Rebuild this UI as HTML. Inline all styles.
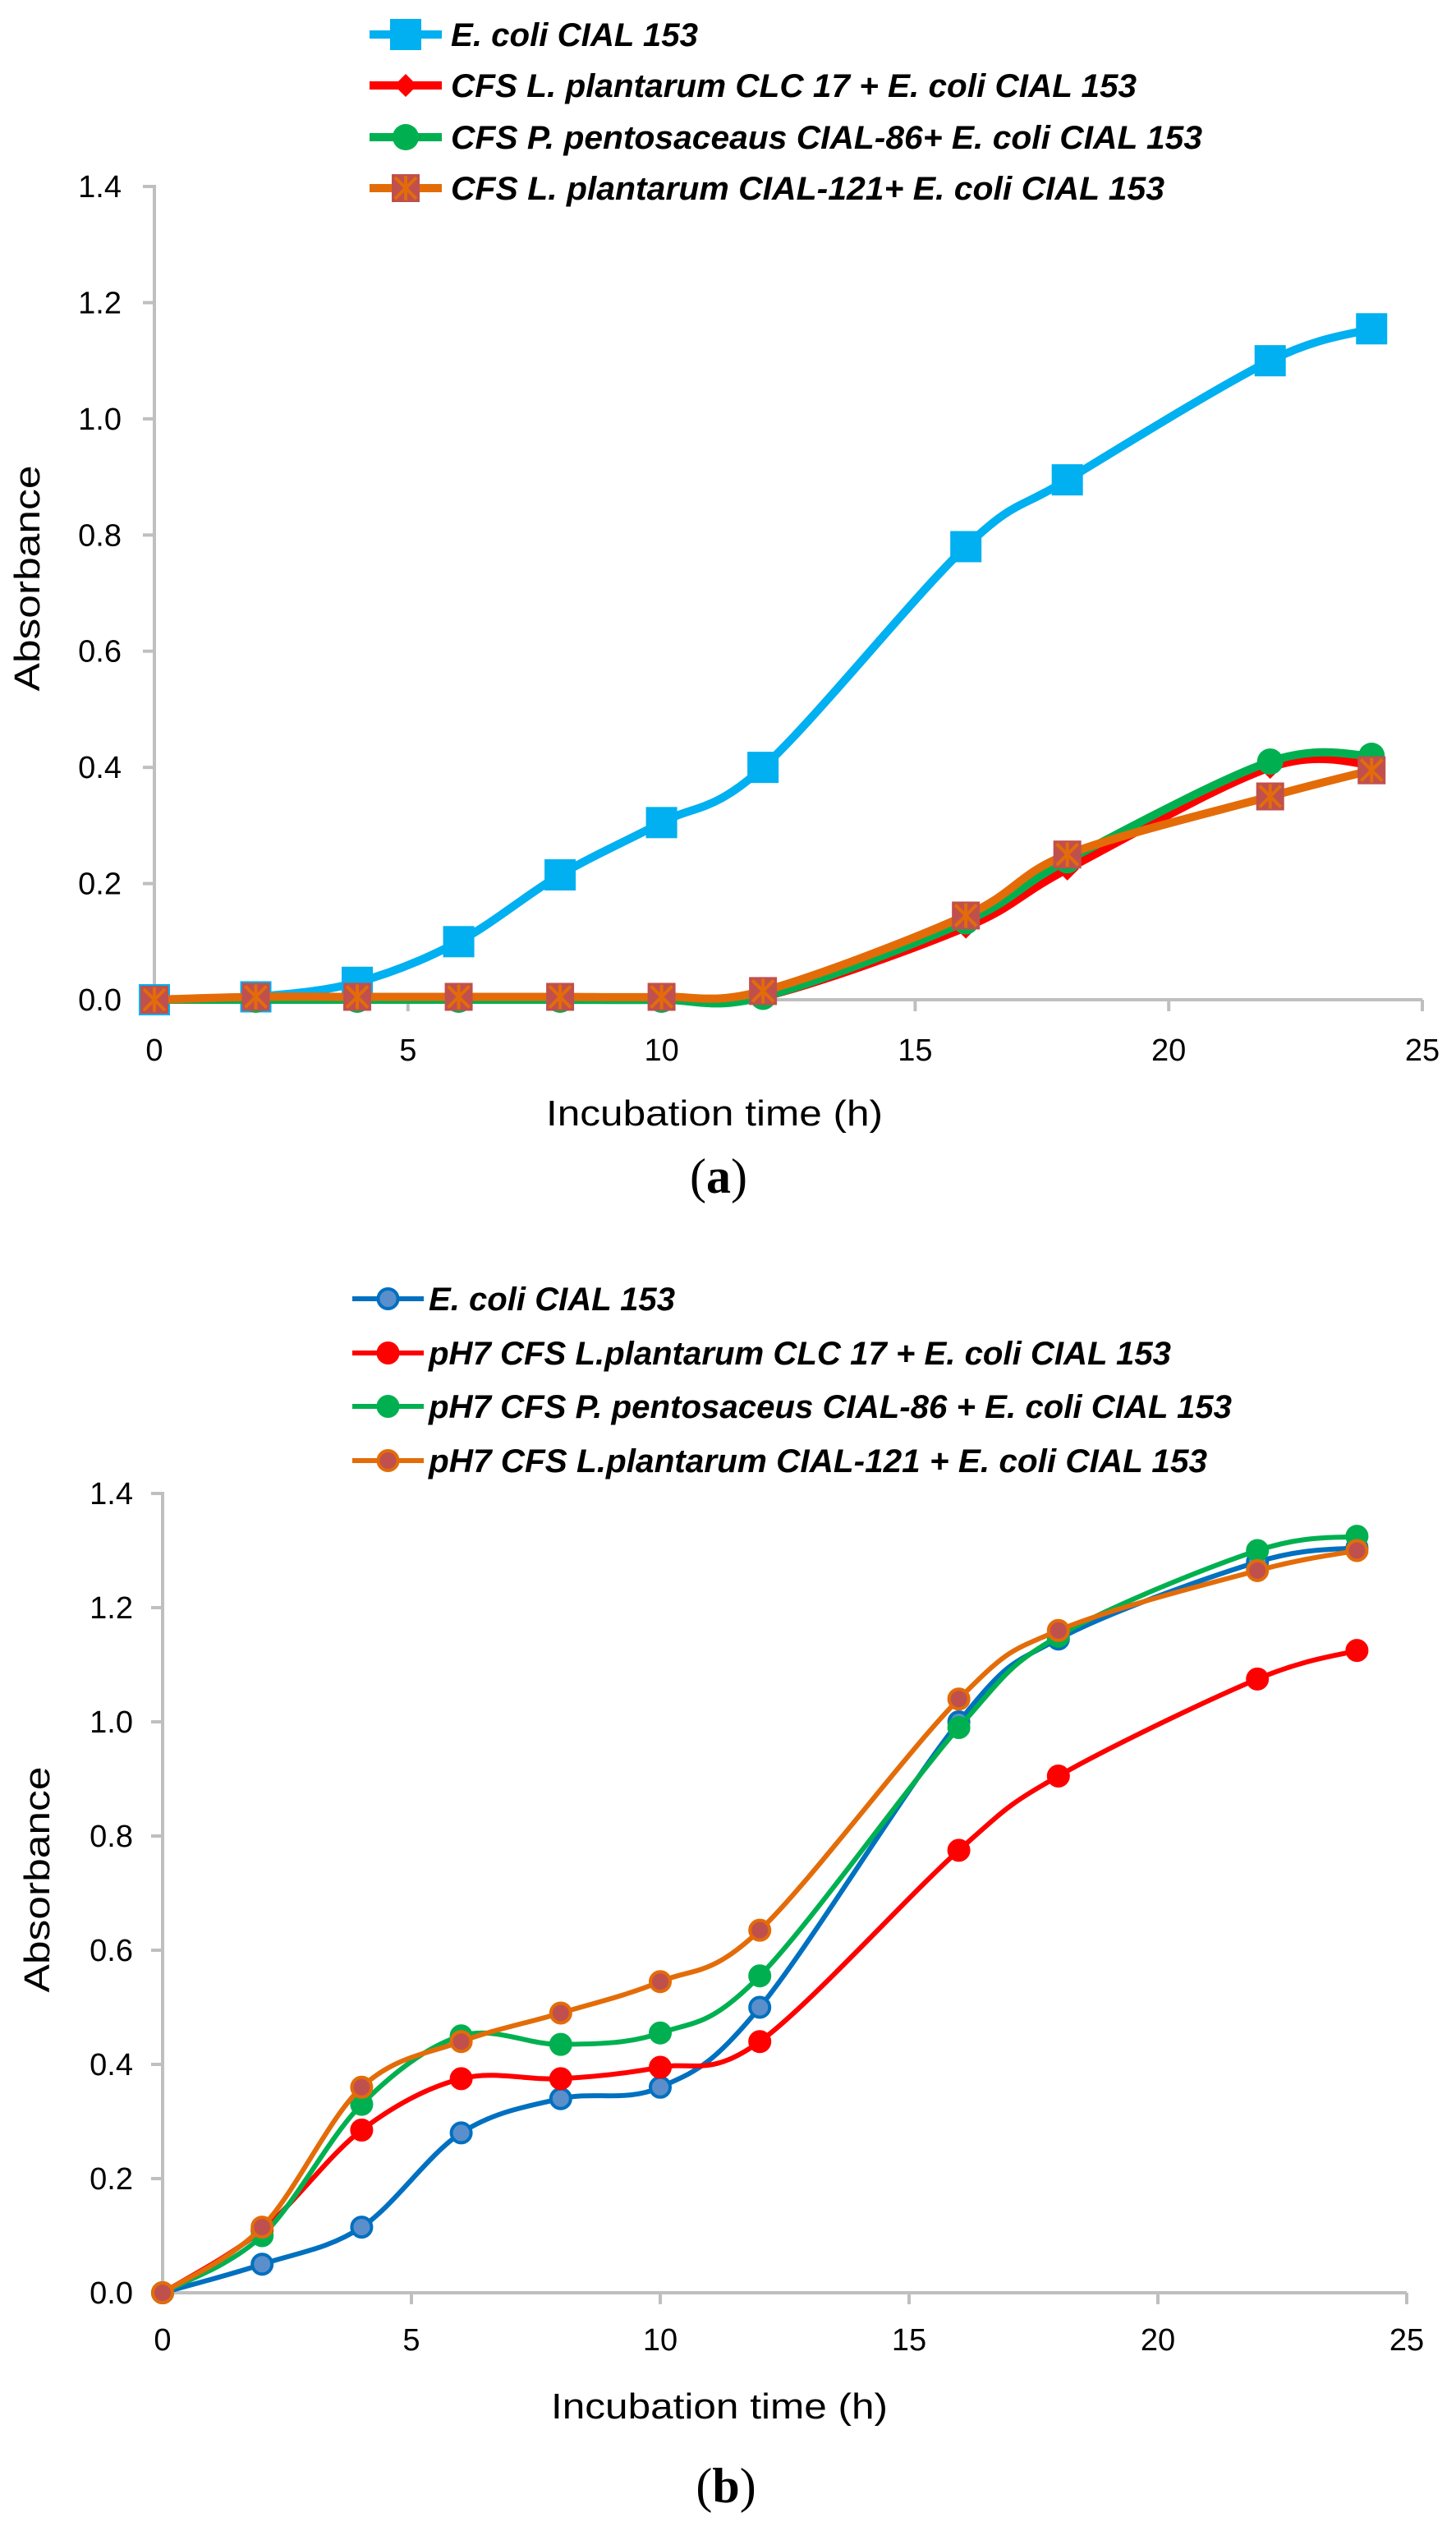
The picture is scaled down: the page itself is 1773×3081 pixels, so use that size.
<!DOCTYPE html>
<html><head><meta charset="utf-8">
<style>
html,body{margin:0;padding:0;background:#fff;}
svg{display:block;}
text{font-family:"Liberation Sans",sans-serif;}
</style></head>
<body>
<svg id="fig" width="1773" height="3081" viewBox="0 0 1773 3081" xmlns="http://www.w3.org/2000/svg"></svg>
<script>
const xTicks = [0,5,10,15,20,25];
const yTicks = [0.0,0.2,0.4,0.6,0.8,1.0,1.2,1.4];
const hours = [0,2,4,6,8,10,12,16,18,22,24];
// Chart (a)
const aEcoli = [0,0.005,0.03,0.1,0.215,0.305,0.4,0.78,0.895,1.1,1.155];
const aClc17 = [0,0.003,0.003,0.003,0.003,0.003,0.005,0.125,0.225,0.4,0.405];
const aCial86 = [0,0,0,0,0,0,0.005,0.135,0.24,0.41,0.42];
const aCial121 = [0,0.005,0.005,0.005,0.005,0.005,0.015,0.145,0.25,0.35,0.395];
const aLabels = ["E. coli CIAL 153","CFS L. plantarum CLC 17 + E. coli CIAL 153","CFS P. pentosaceaus CIAL-86+ E. coli CIAL 153","CFS L. plantarum CIAL-121+ E. coli CIAL 153"];
// Chart (b)
const bEcoli = [0,0.05,0.115,0.28,0.34,0.36,0.5,1.0,1.145,1.28,1.305];
const bClc17 = [0,0.11,0.285,0.375,0.375,0.395,0.44,0.775,0.905,1.075,1.125];
const bCial86 = [0,0.1,0.33,0.45,0.435,0.455,0.555,0.99,1.15,1.3,1.325];
const bCial121 = [0,0.115,0.36,0.44,0.49,0.545,0.635,1.04,1.16,1.265,1.3];
const bLabels = ["E. coli CIAL 153","pH7 CFS L.plantarum CLC 17 + E. coli CIAL 153","pH7 CFS P. pentosaceus CIAL-86 + E. coli CIAL 153","pH7 CFS L.plantarum CIAL-121 + E. coli CIAL 153"];

const NS="http://www.w3.org/2000/svg";
const svg=document.getElementById('fig');
function mk(tag,attrs,parent){const e=document.createElementNS(NS,tag);for(const k in attrs)e.setAttribute(k,attrs[k]);(parent||svg).appendChild(e);return e;}

function smooth(pts){
  let d=`M${pts[0][0]},${pts[0][1]}`;
  for(let i=0;i<pts.length-1;i++){
    const p0=pts[Math.max(0,i-1)],p1=pts[i],p2=pts[i+1],p3=pts[Math.min(pts.length-1,i+2)];
    const c1=[p1[0]+(p2[0]-p0[0])/6,p1[1]+(p2[1]-p0[1])/6];
    const c2=[p2[0]-(p3[0]-p1[0])/6,p2[1]-(p3[1]-p1[1])/6];
    d+=` C${c1[0]},${c1[1]} ${c2[0]},${c2[1]} ${p2[0]},${p2[1]}`;
  }
  return d;
}

function marker(g,kind,x,y,c){
  let m;
  if(kind==='square'){m=mk('rect',{x:x-19,y:y-19,width:38,height:38,fill:c.fill},g);}
  else if(kind==='diamond'){m=mk('polygon',{points:`${x},${y-14} ${x+14},${y} ${x},${y+14} ${x-14},${y}`,fill:c.fill},g);}
  else if(kind==='dot'){m=mk('circle',{cx:x,cy:y,r:16,fill:c.fill},g);}
  else if(kind==='xsquare'){
    m=mk('rect',{x:x-17,y:y-17,width:34,height:34,fill:c.fill},g);
    mk('path',{d:`M${x-13},${y-13}L${x+13},${y+13}M${x+13},${y-13}L${x-13},${y+13}M${x},${y-15}L${x},${y+15}`,stroke:c.stroke,'stroke-width':4,fill:'none'},g);
  } else if(kind==='circ'){m=mk('circle',{cx:x,cy:y,r:12,fill:c.fill,stroke:c.stroke,'stroke-width':4},g);}
  
  
}

function chart(cfg){
  const g=mk('g',{});
  
  
  const X=v=>cfg.x0+(cfg.x1-cfg.x0)*v/25;
  const Y=v=>cfg.y0-(cfg.y0-cfg.y1)*v/1.4;
  const ax=mk('path',{d:`M${cfg.x0-9},${Y(1.4)}H${cfg.x0}V${cfg.y0}H${cfg.x1}`,stroke:'#bfbfbf','stroke-width':4,fill:'none'},g);
  
  
  xTicks.forEach(t=>{
    const tk=mk('line',{x1:X(t),x2:X(t),y1:cfg.y0,y2:cfg.y0+14,stroke:'#bfbfbf','stroke-width':4},g);
    
    
    const tx=mk('text',{x:X(t),y:cfg.xly,'text-anchor':'middle','font-size':38,fill:'#000'},g);
    tx.textContent=t;
    
    
  });
  yTicks.forEach(t=>{
    const tk=mk('line',{x1:cfg.x0-14,x2:cfg.x0,y1:Y(t),y2:Y(t),stroke:'#bfbfbf','stroke-width':4},g);
    
    
    const tx=mk('text',{x:cfg.ylx,y:Y(t)+13,'text-anchor':'end','font-size':38,fill:'#000'},g);
    tx.textContent=t.toFixed(1);
    
    
  });
  const yt=mk('text',{x:0,y:0,'text-anchor':'middle','font-size':44,fill:'#000',transform:`translate(${cfg.ytx},${cfg.yty}) rotate(-90)`,textLength:275,lengthAdjust:'spacingAndGlyphs'},g);
  yt.textContent='Absorbance';
  
  
  const xt=mk('text',{x:cfg.xtx,y:cfg.xty,'text-anchor':'middle','font-size':44,fill:'#000',textLength:410,lengthAdjust:'spacingAndGlyphs'},g);
  xt.textContent='Incubation time (h)';
  
  

  cfg.series.forEach((s,i)=>{
    const sg=mk('g',{},g);
    
    
    const pts=hours.map((h,j)=>[X(h),Y(s.data[j])]);
    const p=mk('path',{d:smooth(pts),stroke:s.color,'stroke-width':cfg.lw,fill:'none','stroke-linejoin':'round'},sg);
    
    
    pts.forEach(pt=>marker(sg,s.marker,pt[0],pt[1],s.mc));
    // legend
    const ly=cfg.legY[i];
    const lg=mk('g',{},g);
    
    
    mk('line',{x1:cfg.legX0,x2:cfg.legX1,y1:ly,y2:ly,stroke:s.color,'stroke-width':cfg.lw},lg);
    marker(lg,s.marker,(cfg.legX0+cfg.legX1)/2,ly,s.mc);
    const lt=mk('text',{x:cfg.legT,y:ly+14,'font-size':40,'font-weight':'bold','font-style':'italic',fill:'#000',textLength:cfg.legW[i],lengthAdjust:'spacingAndGlyphs'},lg);
    lt.textContent=cfg.labels[i];
  });
  const cap=mk('text',{x:cfg.capx,y:cfg.capy,'text-anchor':'middle','font-size':60,'font-family':'Liberation Serif, serif',fill:'#000'},g);
  cap.innerHTML='(<tspan font-weight="bold">'+cfg.cap+'</tspan>)';
  cap.style.fontFamily='"Liberation Serif",serif';
  
  
}

chart({name:'chart-a',x0:188,x1:1732,y0:1217,y1:227,lw:10,xly:1291,ylx:148,ytx:48,yty:704,xtx:870,xty:1370,
  legX0:450,legX1:538,legT:549,legY:[42,104,167,229],legW:[301,835,915,869],labels:aLabels,cap:'a',capx:875,capy:1452,
  series:[
    {key:'ecoli',data:aEcoli,color:'#00B0F0',marker:'square',mc:{fill:'#00B0F0'}},
    {key:'clc17',data:aClc17,color:'#FF0000',marker:'diamond',mc:{fill:'#FF0000'}},
    {key:'cial86',data:aCial86,color:'#00B050',marker:'dot',mc:{fill:'#00B050'}},
    {key:'cial121',data:aCial121,color:'#E36C09',marker:'xsquare',mc:{fill:'#C0504D',stroke:'#E36C09'}}
  ]});
chart({name:'chart-b',x0:198,x1:1713,y0:2791,y1:1818,lw:6,xly:2861,ylx:162,ytx:60,yty:2288,xtx:876,xty:2944,
  legX0:429,legX1:516,legT:522,legY:[1581,1647,1712,1778],legW:[300,904,978,948],labels:bLabels,cap:'b',capx:884,capy:3046,
  series:[
    {key:'ecoli',data:bEcoli,color:'#0070C0',marker:'circ',mc:{fill:'#5B8FCB',stroke:'#0070C0'}},
    {key:'clc17',data:bClc17,color:'#FF0000',marker:'circ',mc:{fill:'#FF0000',stroke:'#FF0000'}},
    {key:'cial86',data:bCial86,color:'#00B050',marker:'circ',mc:{fill:'#00B050',stroke:'#00B050'}},
    {key:'cial121',data:bCial121,color:'#E36C09',marker:'circ',mc:{fill:'#C0504D',stroke:'#E36C09'}}
  ]});
</script>
</body></html>
